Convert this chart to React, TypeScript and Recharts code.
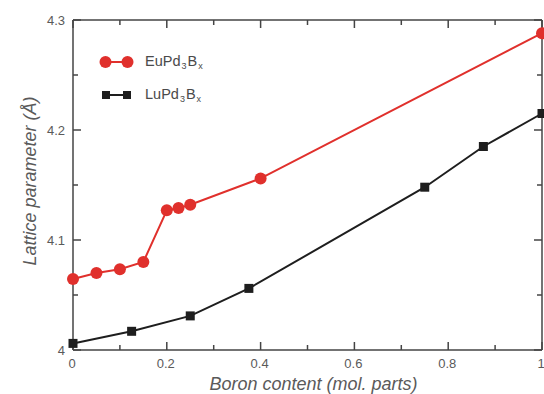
import React from 'react';
import { LineChart, Line, XAxis, YAxis } from 'recharts';

const euX = [0, 0.05, 0.1, 0.15, 0.2, 0.225, 0.25, 0.4, 1.0];
const euY = [4.0645, 4.07, 4.0735, 4.08, 4.127, 4.129, 4.132, 4.156, 4.288];
const luX = [0, 0.125, 0.25, 0.375, 0.75, 0.875, 1.0];
const luY = [4.006, 4.017, 4.031, 4.056, 4.148, 4.185, 4.215];
const xTicks = [0, 0.1, 0.2, 0.3, 0.4, 0.5, 0.6, 0.7, 0.8, 0.9, 1.0];
const xLabeled = [0, 0.2, 0.4, 0.6, 0.8, 1.0];
const yTicks = [4.0, 4.05, 4.1, 4.15, 4.2, 4.25, 4.3];
const yLabeled = [4.0, 4.1, 4.2, 4.3];

const X_DOMAIN: [number, number] = [0, 1];
const Y_DOMAIN: [number, number] = [4.0, 4.3];

const euData = euX.map((x, i) => ({ x, y: euY[i] }));
const luData = luX.map((x, i) => ({ x, y: luY[i] }));

const isLabeled = (v: number, arr: number[]) => arr.some((a) => Math.abs(a - v) < 1e-6);

// tick-mark anchor points on the four frame edges
const bottomMarks = xTicks.map((x) => ({ x, y: Y_DOMAIN[0], major: isLabeled(x, xLabeled) }));
const topMarks = xTicks.map((x) => ({ x, y: Y_DOMAIN[1], major: isLabeled(x, xLabeled) }));
const leftMarks = yTicks.map((y) => ({ x: X_DOMAIN[0], y, major: isLabeled(y, yLabeled) }));
const rightMarks = yTicks.map((y) => ({ x: X_DOMAIN[1], y, major: isLabeled(y, yLabeled) }));

const AXIS = '#444';
const TXT = '#5a5a5a';
const RED = '#e0302c';
const BLK = '#1e1e1e';
const FONT = '"Liberation Sans", Arial, sans-serif';
const MAJOR = 8;
const MINOR = 5;

const fmt = (v: number) => (Math.abs(v - Math.round(v)) < 1e-6 ? String(Math.round(v)) : String(+v.toFixed(2)));

const makeMark = (dir: 'up' | 'down' | 'right' | 'left') => (props: any) => {
  const { cx, cy, payload, index } = props;
  if (cx == null || cy == null) return <g key={`m${dir}${index}`} />;
  const len = payload && payload.major ? MAJOR : MINOR;
  let x2 = cx;
  let y2 = cy;
  if (dir === 'up') y2 = cy - len;
  if (dir === 'down') y2 = cy + len;
  if (dir === 'right') x2 = cx + len;
  if (dir === 'left') x2 = cx - len;
  return <line key={`m${dir}${index}`} x1={cx} y1={cy} x2={x2} y2={y2} stroke={AXIS} strokeWidth={1.5} />;
};

const BottomLabel = (props: any) => {
  const x = Number(props.x);
  const y = Number(props.y);
  if (!isLabeled(props.payload.value, xLabeled)) return <g />;
  return (
    <text x={x - 1} y={y + 18} textAnchor="middle" fill={TXT} stroke="none" fontSize={13} fontFamily={FONT}>
      {fmt(props.payload.value)}
    </text>
  );
};

const LeftLabel = (props: any) => {
  const x = Number(props.x);
  const y = Number(props.y);
  if (!isLabeled(props.payload.value, yLabeled)) return <g />;
  return (
    <text x={x - 8} y={y + 5} textAnchor="end" fill={TXT} stroke="none" fontSize={13} fontFamily={FONT}>
      {fmt(props.payload.value)}
    </text>
  );
};

const YTitle = (props: any) => {
  const vb = props.viewBox || {};
  const cx = 36;
  const cy = vb.y + vb.height / 2 - 4;
  return (
    <text
      x={cx}
      y={cy}
      transform={`rotate(-90 ${cx} ${cy})`}
      textAnchor="middle"
      fill={TXT}
      fontSize={18}
      fontStyle="italic"
      fontFamily={FONT}
    >
      Lattice parameter (Å)
    </text>
  );
};

const XTitle = (props: any) => {
  const vb = props.viewBox || {};
  const cx = vb.x + vb.width / 2 + 6;
  return (
    <text x={cx} y={390} textAnchor="middle" fill={TXT} fontSize={18} fontStyle="italic" fontFamily={FONT}>
      Boron content (mol. parts)
    </text>
  );
};

const Sub = ({ children }: any) => (
  <span style={{ fontSize: 9, verticalAlign: -3, margin: '0 1px' }}>{children}</span>
);

const LegendBox = () => (
  <div style={{ position: 'absolute', left: 98, top: 52, fontFamily: FONT, fontSize: 14.5, color: '#4a4a4a' }}>
    <div style={{ display: 'flex', alignItems: 'center', height: 20 }}>
      <svg width={37} height={14} style={{ marginRight: 10 }}>
        <line x1={6} x2={30} y1={7} y2={7} stroke={RED} strokeWidth={2} />
        <circle cx={7.5} cy={7} r={6} fill={RED} />
        <circle cx={29.5} cy={7} r={6} fill={RED} />
      </svg>
      <span>
        EuPd<Sub>3</Sub>B<Sub>x</Sub>
      </span>
    </div>
    <div style={{ display: 'flex', alignItems: 'center', height: 20, marginTop: 13 }}>
      <svg width={37} height={14} style={{ marginRight: 10 }}>
        <line x1={6} x2={30} y1={7} y2={7} stroke={BLK} strokeWidth={2} />
        <rect x={4} y={3} width={8} height={8} fill={BLK} />
        <rect x={25} y={3} width={8} height={8} fill={BLK} />
      </svg>
      <span>
        LuPd<Sub>3</Sub>B<Sub>x</Sub>
      </span>
    </div>
  </div>
);

const Square = (props: any) => {
  const { cx, cy, index } = props;
  if (cx == null || cy == null) return <g key={`s${index}`} />;
  return <rect key={`s${index}`} x={cx - 4.5} y={cy - 4.5} width={9} height={9} fill={BLK} />;
};

const markLine = (data: any[], dir: 'up' | 'down' | 'right' | 'left', key: string) => (
  <Line
    key={key}
    xAxisId="b"
    yAxisId="l"
    data={data}
    dataKey="y"
    stroke="none"
    dot={makeMark(dir)}
    activeDot={false}
    legendType="none"
    isAnimationActive={false}
  />
);

export default function App() {
  return (
    <div style={{ position: 'absolute', left: 0, top: 0, width: 544, height: 394, background: '#fff' }}>
      <LineChart width={544} height={394} margin={{ top: 19, right: 1, bottom: 0, left: 0 }}>
        <XAxis
          xAxisId="b"
          type="number"
          dataKey="x"
          domain={X_DOMAIN}
          ticks={xTicks}
          interval={0}
          height={44}
          tickSize={0}
          tickMargin={0}
          tickLine={false}
          tick={<BottomLabel />}
          axisLine={{ stroke: AXIS, strokeWidth: 1.5 }}
          label={<XTitle />}
        />
        <XAxis
          xAxisId="t"
          orientation="top"
          type="number"
          dataKey="x"
          domain={X_DOMAIN}
          ticks={xTicks}
          interval={0}
          height={1}
          tickSize={0}
          tickMargin={0}
          tickLine={false}
          tick={false}
          axisLine={{ stroke: AXIS, strokeWidth: 1.5 }}
        />
        <YAxis
          yAxisId="l"
          type="number"
          dataKey="y"
          domain={Y_DOMAIN}
          ticks={yTicks}
          interval={0}
          width={73}
          tickSize={0}
          tickMargin={0}
          tickLine={false}
          tick={<LeftLabel />}
          axisLine={{ stroke: AXIS, strokeWidth: 1.5 }}
          label={<YTitle />}
        />
        <YAxis
          yAxisId="r"
          orientation="right"
          type="number"
          dataKey="y"
          domain={Y_DOMAIN}
          ticks={yTicks}
          interval={0}
          width={1}
          tickSize={0}
          tickMargin={0}
          tickLine={false}
          tick={false}
          axisLine={{ stroke: AXIS, strokeWidth: 1.5 }}
        />
        <Line
          xAxisId="t"
          yAxisId="r"
          data={luData}
          dataKey="y"
          stroke="none"
          dot={false}
          activeDot={false}
          legendType="none"
          isAnimationActive={false}
        />
        {markLine(bottomMarks, 'up', 'mb')}
        {markLine(topMarks, 'down', 'mt')}
        {markLine(leftMarks, 'right', 'ml')}
        {markLine(rightMarks, 'left', 'mr')}
        <Line
          xAxisId="b"
          yAxisId="l"
          data={euData}
          dataKey="y"
          name="EuPd3Bx"
          stroke={RED}
          strokeWidth={2}
          dot={{ r: 6, fill: RED, stroke: RED, strokeWidth: 0 }}
          isAnimationActive={false}
        />
        <Line
          xAxisId="b"
          yAxisId="l"
          data={luData}
          dataKey="y"
          name="LuPd3Bx"
          stroke={BLK}
          strokeWidth={2}
          dot={<Square />}
          isAnimationActive={false}
        />
      </LineChart>
      <LegendBox />
    </div>
  );
}
